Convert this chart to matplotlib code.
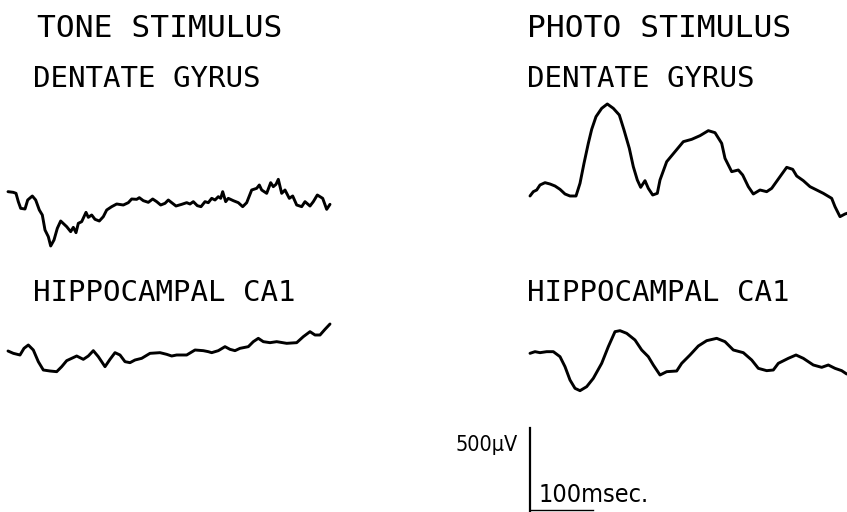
import matplotlib
matplotlib.use("Agg")
import matplotlib.pyplot as plt
import numpy as np

# --- traces: time in msec, amplitude in microvolts ---
tone_dg_t = [0, 8.5, 12.8, 16.5, 20.3, 27.2, 31.5, 38.9, 44.3, 50.1, 54.9, 59.2, 64.5, 68.3,
             73.6, 78.9, 84.3, 93.9, 100.3, 104.5, 108.8, 112.5, 117.9, 124.8, 128.5, 133.9,
             139.2, 146.1, 152.5, 157.9, 165.9, 173.9, 184.5, 192.5, 197.9, 205.9, 210.1,
             216.5, 224.5, 231.5, 237.9, 244.3, 251.2, 256.5, 261.9, 268.8, 277.9, 285.9,
             291.2, 296.5, 302.9, 308.8, 315.2, 320.5, 325.9, 331.2, 336.5, 340.3, 343.5,
             348.3, 352.5, 360.5, 368.5, 375.5, 381.9, 386.1, 389.9, 397.9, 402.1, 405.9,
             413.9, 420.3, 424.5, 428.8, 432.5, 437.9, 443.2, 450.1, 455.5, 461.9, 469.9,
             475.2, 483.2, 488.5, 494.9, 503.5, 509.9, 515.2]
tone_dg_v = [50, 46, 40, -10, -50, -54, 0, 24, 0, -60, -90, -180, -220, -276,
             -240, -170, -126, -160, -190, -164, -196, -140, -130, -74, -104, -90,
             -116, -126, -100, -60, -40, -24, -30, -16, 6, 4, 14,
             -4, -14, 6, -10, -30, -20, 0, -16, -36, -26, -16,
             -24, -10, -34, -40, -10, -16, 10, 0, 20, 10, 50,
             -10, 10, -4, -16, -40, -16, 24, 60, 70, 90, 60,
             40, 104, 80, 94, 124, 40, 60, 10, 24, -30, -40,
             -10, -36, -10, 30, 10, -56, -26]

tone_ca1_t = [0, 8.5, 19.2, 25.6, 32.5, 40.5, 48.5, 56.5, 67.2, 77.9, 85.9, 93.9, 101.9,
              109.9, 120.5, 128.5, 136.5, 144.5, 155.2, 163.2, 171.2, 179.2, 187.2, 195.2,
              203.2, 213.9, 227.2, 243.2, 253.9, 261.9, 269.9, 285.9, 299.2, 312.5, 320.5,
              325.9, 336.5, 347.2, 355.2, 363.2, 371.2, 384.5, 392.5, 400.5, 408.5, 419.2,
              429.9, 445.9, 461.9, 472.5, 483.2, 491.2, 499.2, 507.2, 515.2]
tone_ca1_v = [-6, -20, -30, 10, 30, 0, -70, -120, -126, -130, -100, -64, -50,
              -36, -56, -36, -4, -40, -100, -56, -16, -30, -70, -76,
              -60, -50, -20, -16, -26, -36, -30, -30, 0, -4, -10,
              -16, -4, 20, 4, -4, 10, 20, 50, 70, 50, 44,
              50, 40, 44, 80, 110, 90, 90, 124, 156]

photo_dg_t = [0, 5.3, 10.7, 16, 24, 32, 40, 48, 56, 64, 73.6, 80, 86.4, 93.3, 98.7, 105.6,
              114.7, 123.7, 133.3, 142.9, 150.4, 158.9, 165.3, 171.7, 177.1, 184, 189.3,
              196.3, 203.7, 208, 218.7, 232, 245.3, 258.7, 272, 285.3, 296, 306.7, 312,
              322.7, 333.3, 340.3, 349.3, 357.3, 368, 378.7, 386.7, 400, 410.7, 420.3,
              426.7, 437.3, 448, 458.7, 469.3, 482.7, 488, 496, 504, 508.8]
photo_dg_v = [-36, -10, 0, 30, 44, 36, 24, 4, -24, -36, -36, 40, 160, 280, 364, 440,
              490, 516, 490, 450, 360, 250, 140, 60, 16, 56, 10,
              -30, -20, 60, 170, 230, 290, 304, 326, 356, 344, 280, 190,
              110, 120, 90, 20, -24, 0, -10, 10, 80, 136, 124,
              84, 56, 20, 0, -20, -50, -100, -160, -144, -138]

photo_ca1_t = [0, 8, 16, 26.7, 37.3, 48, 56, 64, 72, 80, 90.7, 101.3, 114.7, 125.3, 136,
               144, 154.7, 168, 178.7, 189.3, 197.3, 208, 218.7, 234.7, 242.7, 256, 269.3,
               282.7, 298.7, 312, 325.3, 341.3, 354.7, 365.3, 378.7, 389.3, 397.3, 413.3,
               425.6, 437.3, 453.3, 466.7, 477.3, 488, 498.7, 506.7]
photo_ca1_v = [10, 20, 14, 20, 20, -10, -70, -150, -200, -214, -190, -140, -50, 50, 140,
               146, 130, 90, 30, -10, -60, -120, -100, -96, -50, 0, 54,
               86, 100, 80, 30, 14, -30, -80, -94, -90, -50, -20,
               0, -20, -60, -74, -60, -80, -94, -114]

# calibration of the original record
MS_PER_PX = 1.6
UV_PER_PX = 6.0
bar_uv = 500
bar_ms = 100

fig = plt.figure(figsize=(8.47, 5.12), dpi=100)
ax = fig.add_axes([0, 0, 1, 1])
ax.set_xlim(0, 847)
ax.set_ylim(512, 0)
ax.axis("off")


def draw_trace(t, v, x0, base):
    x = x0 + np.array(t) / MS_PER_PX
    y = base - np.array(v) / UV_PER_PX
    ax.plot(x, y, color="black", lw=2.1, solid_joinstyle="round", solid_capstyle="round")


draw_trace(tone_dg_t, tone_dg_v, 8, 200)
draw_trace(tone_ca1_t, tone_ca1_v, 8, 350)
draw_trace(photo_dg_t, photo_dg_v, 530, 190)
draw_trace(photo_ca1_t, photo_ca1_v, 530, 355)

# panel labels
mono = dict(family="DejaVu Sans Mono", color="black", va="baseline", ha="left")
ax.text(37, 37, "TONE STIMULUS", fontsize=22.5, **mono)
ax.text(33, 87, "DENTATE GYRUS", fontsize=21, **mono)
ax.text(33, 301, "HIPPOCAMPAL CA1", fontsize=21, **mono)
ax.text(527, 37, "PHOTO STIMULUS", fontsize=22.5, **mono)
ax.text(527, 87, "DENTATE GYRUS", fontsize=21, **mono)
ax.text(527, 301, "HIPPOCAMPAL CA1", fontsize=21, **mono)

# scale bar
x_bar, y_bar = 530, 511
ax.plot([x_bar, x_bar], [y_bar, y_bar - bar_uv / UV_PER_PX], color="black", lw=1.6)
ax.plot([x_bar, x_bar + bar_ms / MS_PER_PX], [y_bar - 1, y_bar - 1], color="black", lw=1.0)
small = dict(family=["DejaVu Sans Condensed", "Liberation Sans Narrow", "DejaVu Sans"],
             fontstretch="condensed", color="black", va="baseline")
ax.text(518, 451, "500\u00b5V", ha="right", fontsize=15.5, **small)
ax.text(539, 502, "100msec.", ha="left", fontsize=18, **small)

fig.savefig("out.png", dpi=100)
